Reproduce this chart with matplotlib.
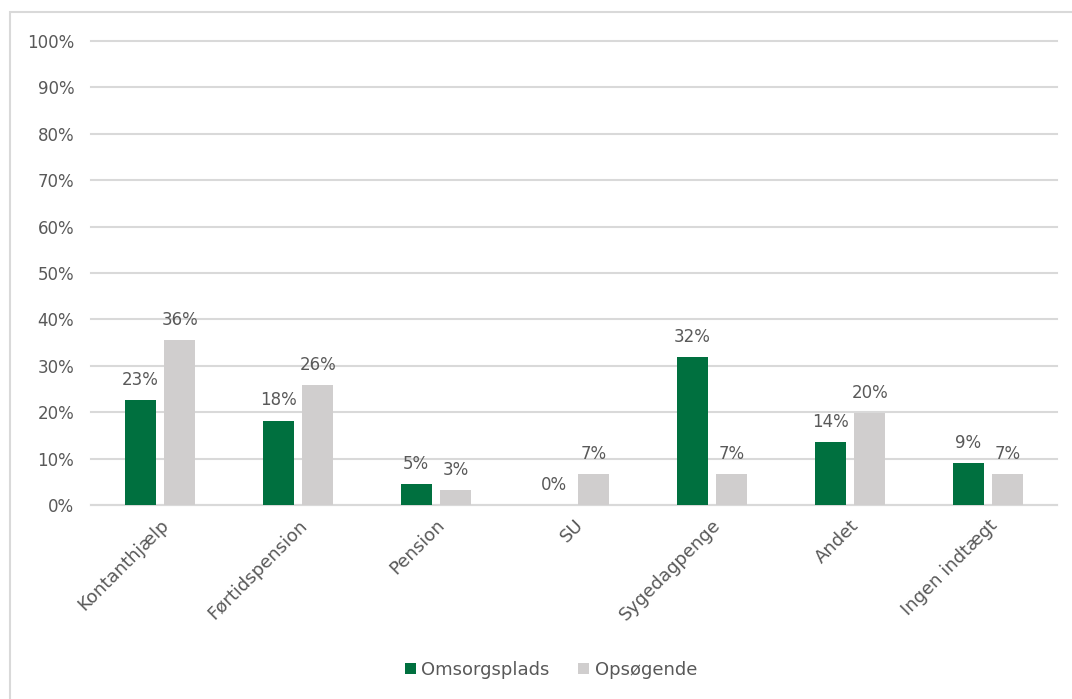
import numpy as np
import matplotlib
matplotlib.use("Agg")
import matplotlib.pyplot as plt
from matplotlib.patches import Rectangle

# Indkomstgrundlag fordelt på gruppe (andel i procent)
categories = ["Kontanthjælp", "Førtidspension", "Pension", "SU",
              "Sygedagpenge", "Andet", "Ingen indtægt"]
omsorgsplads = [22.7, 18.2, 4.6, 0.0, 31.9, 13.6, 9.1]
opsoegende = [35.6, 25.8, 3.2, 6.6, 6.6, 19.8, 6.6]
series_names = ["Omsorgsplads", "Opsøgende"]
yticks = list(range(0, 101, 10))

GREEN = "#00703F"
GREY = "#D0CECE"
TEXT = "#595959"
GRID = "#D9D9D9"

plt.rcParams["font.family"] = ["DejaVu Sans"]

W, H = 1072, 699
fig = plt.figure(figsize=(W / 100, H / 100), dpi=100)

# ydre ramme om diagrammet
fig.patches.append(Rectangle((10 / W, -0.05), 1.2, 1 - 12 / H + 0.05,
                             transform=fig.transFigure, fill=False,
                             edgecolor="#D9D9D9", linewidth=1.5))

ax = fig.add_axes([91 / W, 1 - 505 / H, (1057 - 91) / W, (505 - 41) / H])

x = np.arange(len(categories))
bw = 0.225
off = 0.143
b1 = ax.bar(x - off, omsorgsplads, bw, color=GREEN, label=series_names[0], zorder=3)
b2 = ax.bar(x + off, opsoegende, bw, color=GREY, label=series_names[1], zorder=3)

for bars, vals in ((b1, omsorgsplads), (b2, opsoegende)):
    for rect, v in zip(bars, vals):
        ax.annotate(f"{v:.0f}%", (rect.get_x() + rect.get_width() / 2, v),
                    xytext=(0, 8), textcoords="offset points",
                    ha="center", va="bottom", fontsize=12, color=TEXT)

ax.set_xlim(-0.5, len(categories) - 0.5)
ax.set_ylim(0, 100)
ax.set_yticks(yticks)
ax.set_yticklabels([f"{t}%" for t in yticks], fontsize=12, color=TEXT)
ax.set_xticks(x)
ax.set_xticklabels(categories, rotation=45, ha="right", rotation_mode="anchor",
                   fontsize=13, color=TEXT)
ax.tick_params(axis="both", length=0)
ax.tick_params(axis="y", pad=12)
ax.tick_params(axis="x", pad=8)

ax.grid(axis="y", color=GRID, linewidth=1.5, zorder=0)
for gl in ax.get_ygridlines():
    gl.set_clip_on(False)
for s in ("top", "right", "left"):
    ax.spines[s].set_visible(False)
ax.spines["bottom"].set_color(GRID)
ax.spines["bottom"].set_linewidth(1.5)

leg = fig.legend(loc="center", bbox_to_anchor=(551 / W, 1 - 670 / H), ncol=2,
                 frameon=False, fontsize=13, handlelength=0.6, handleheight=0.6,
                 handletextpad=0.3, columnspacing=1.6)
for t in leg.get_texts():
    t.set_color(TEXT)

fig.savefig("out.png", dpi=100)
